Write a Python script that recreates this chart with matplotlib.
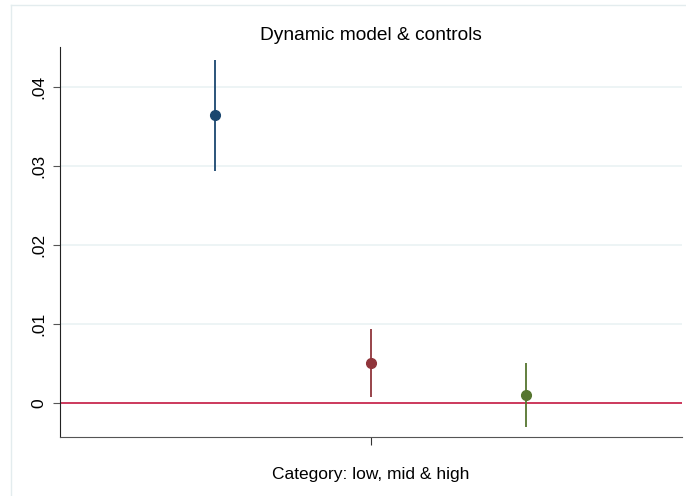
import matplotlib
matplotlib.use("Agg")
import matplotlib.pyplot as plt

plt.rcParams['font.family'] = ['Liberation Sans', 'DejaVu Sans']

# Estimates and confidence bounds (low, mid, high)
categorias = ["low", "mid", "high"]
posicoes = [1, 2, 3]
coef = [0.0365, 0.0051, 0.0010]
ci_inf = [0.0294, 0.0008, -0.0030]
ci_sup = [0.0435, 0.0094, 0.0051]
cores = ["#1a476f", "#90353b", "#55752f"]

yticks = [0, 0.01, 0.02, 0.03, 0.04]
ytick_labels = ["0", ".01", ".02", ".03", ".04"]

fig = plt.figure(figsize=(6.86, 4.96), dpi=100)
ax = fig.add_axes([60 / 686, 1 - 437 / 496, (682 - 60) / 686, (437 - 47) / 496])

# moldura clara da imagem recortada
fig.add_artist(plt.Line2D([11 / 686, 11 / 686], [0, 1 - 5 / 496], color="#e3ecee", lw=1))
fig.add_artist(plt.Line2D([11 / 686, 1], [1 - 5 / 496, 1 - 5 / 496], color="#e3ecee", lw=1))

for y in yticks[1:]:
    ax.axhline(y, color="#eaf2f3", lw=1.2, zorder=0)
ax.axhline(0, color="#c8294f", lw=1.3, zorder=1)

for x, c, lo, hi, cor in zip(posicoes, coef, ci_inf, ci_sup, cores):
    ax.vlines(x, lo, hi, color=cor, lw=1.3, zorder=2)
    ax.plot(x, c, "o", color=cor, markersize=7, zorder=3)

ax.set_xlim(0, 4)
ax.set_ylim(-0.0043, 0.0451)
ax.set_xticks([2])
ax.set_xticklabels([""])
ax.set_yticks(yticks)
ax.set_yticklabels(ytick_labels, rotation=90, va="center", fontsize=12.5)
ax.tick_params(axis="y", length=5, color="#555555", pad=5)
ax.tick_params(axis="x", length=6, color="#333333")

ax.spines["top"].set_visible(False)
ax.spines["right"].set_visible(False)
ax.spines["left"].set_color("#222222")
ax.spines["bottom"].set_color("#555555")

ax.set_title("Dynamic model & controls", fontsize=13.8, pad=5)
ax.set_xlabel("Category: low, mid & high", fontsize=12.5, labelpad=12)

fig.savefig("out.png", dpi=100)
